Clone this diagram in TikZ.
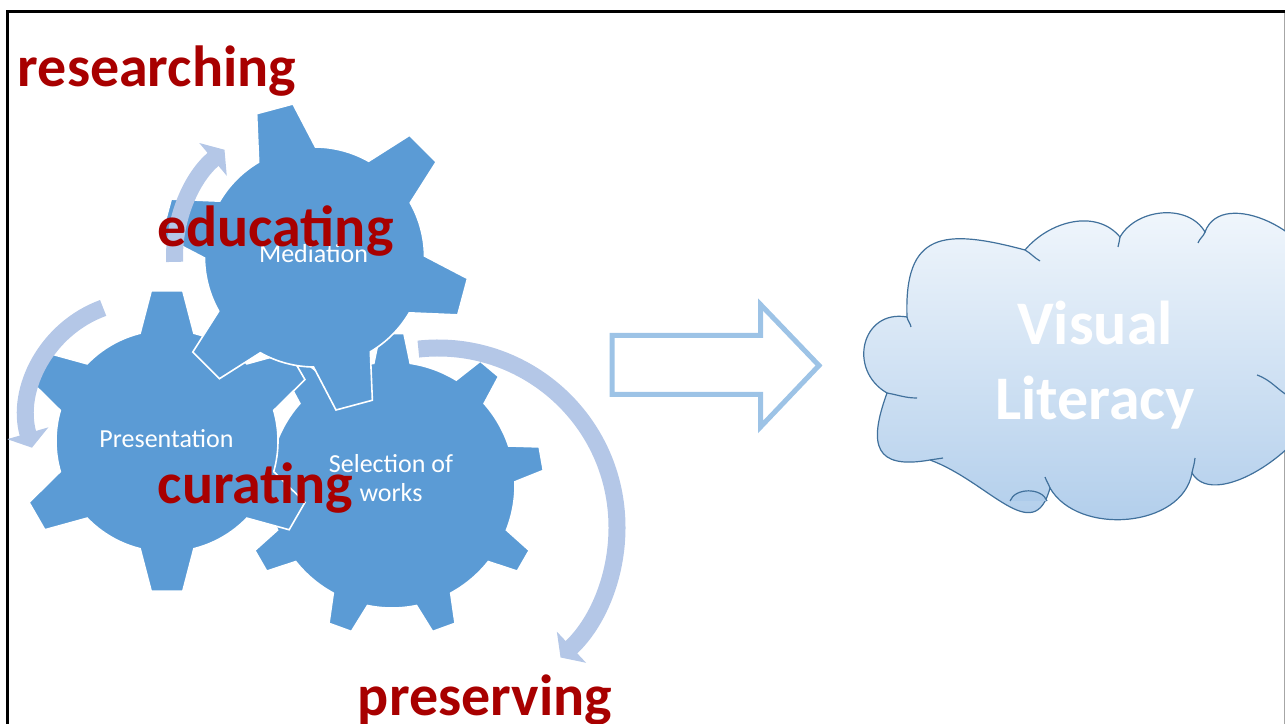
\documentclass[tikz,border=0pt]{standalone}
\usepackage{fontspec}
\setmainfont{Carlito}
\usetikzlibrary{arrows.meta}
\definecolor{GearBlue}{HTML}{5B9BD5}
\definecolor{CycleBlue}{HTML}{B4C7E7}
\definecolor{ArrowBlue}{HTML}{9DC3E6}
\definecolor{CloudEdge}{HTML}{41719C}
\definecolor{CloudTop}{HTML}{F5F9FD}
\definecolor{CloudBottom}{HTML}{ADCBEA}
\definecolor{VerbRed}{HTML}{A80000}
\definecolor{FrameGray}{HTML}{A6A6A6}

% centre x, centre y, body radius, tip radius, teeth, first tooth angle, base half angle, tip half angle
\newcommand{\drawgear}[8]{%
  \path[gear,shift={(#1,#2)}] ({#6-#7}:#3)
    \foreach \k [evaluate=\k as \t using {#6+(\k-1)*360/#5}] in {1,...,#5}{
      -- ({\t-#8}:#4) -- ({\t+#8}:#4) -- ({\t+#7}:#3)
      arc[start angle={\t+#7},end angle={\t+360/#5-#7},radius=#3]
    } -- cycle;}

\begin{document}
\begin{tikzpicture}[x=0.5pt,y=0.5pt,
    gear/.style={fill=GearBlue,draw=white,line width=0.8pt,line join=miter},
    cyc/.style={draw=CycleBlue,line width=8.5pt,-{Triangle[length=7.5pt,width=21pt]}},
    verb/.style={text=VerbRed,font=\fontsize{29}{35}\selectfont\bfseries,anchor=base,inner sep=0pt},
    gearlabel/.style={text=white,font=\fontsize{13}{14.5}\selectfont,align=center,inner sep=0pt},
    blockarrow/.style={draw=ArrowBlue,line width=2.5pt,line join=miter},
    cloudshape/.style={draw=CloudEdge,line width=0.6pt,top color=CloudTop,bottom color=CloudBottom},
    curl/.style={draw=CloudEdge,line width=0.6pt},
    frameline/.style={draw=black,line width=1.5pt}
  ]
    \useasboundingbox (0,0) rectangle (1285,723);
    \draw[frameline] (1286,711.3) -- (7.5,711.3) -- (7.5,-2);
    \draw[FrameGray,line width=0.5pt] (1284.5,710) -- (1284.5,-2);

    \drawgear{392}{238}{123}{152}{9}{10}{8.5}{4.5}
    \drawgear{167}{282}{111}{151}{6}{90}{14}{6}
    \drawgear{314.5}{466}{110}{154.5}{6}{105}{15.5}{7}

    \coordinate (selc) at (438,196);
    \coordinate (prec) at (142.5,307);
    \coordinate (medc) at (314.5,466);
    \draw[cyc] ([shift={(96.3:179)}]selc) arc[start angle=96.3,end angle=-46.8,radius=179];
    \draw[cyc] ([shift={(110:115)}]prec) arc[start angle=110,end angle=196,radius=115];
    \draw[cyc] ([shift={(182:140)}]medc) arc[start angle=182,end angle=130,radius=140];

    \draw[blockarrow] (612,387.5) -- (760.5,387.5) -- (760.5,418.5) -- (819,357.5)
      -- (760.5,296) -- (760.5,328.5) -- (612,328.5) -- cycle;

    \path[cloudshape] (907,406)
      to[out=92,in=165,looseness=1.6] (1025,473)
      to[out=50,in=130] (1120,486)
      to[out=60,in=120] (1205,491)
      to[out=70,in=90] (1320,440)
      to[out=0,in=0] (1320,330)
      to[out=-90,in=-60,looseness=0.8] (1192,250)
      to[out=-100,in=-60] (1050,235)
      to[out=-105,in=-20,looseness=1.3] (930,263)
      to[out=190,in=-110,looseness=1.8] (887,330)
      to[out=150,in=170,looseness=1.5] (907,406) -- cycle;
    \draw[curl] (907,406) to[out=-80,in=100] (911,396);
    \draw[curl] (1025,473) to[out=-30,in=150] (1040,462);
    \draw[curl] (1120,486) to[out=-80,in=95] (1118,476);
    \draw[curl] (1205,491) to[out=-110,in=70] (1198,480);
    \draw[curl] (1257,348) to[out=-20,in=150] (1290,326);
    \draw[curl] (1192,250) to[out=80,in=-95] (1195,265);
    \draw[curl] (1050,235) to[out=110,in=-70] (1045,246);
    \draw[curl] (930,263) to[out=10,in=190] (943,265);
    \draw[curl] (887,330) to[out=-10,in=180] (917,325);
    \path[fill=CloudBottom] (1010,222) to[out=70,in=110] (1047,222) -- cycle;
    \draw[curl] (1010,222) to[out=70,in=110] (1047,222);

    \node[gearlabel,anchor=base] (mediation) at (313.5,460) {Mediation};
    \node[gearlabel,anchor=base] (presentation) at (166.5,275) {Presentation};
    \node[gearlabel] (selection) at (391,244.5) {Selection of\\works};
    \node[text=white,font=\fontsize{31}{37.5}\selectfont\bfseries,align=center] (literacy) at (1095,358) {Visual\\Literacy};

    \node[verb] (research) at (157,636) {researching};
    \node[verb] (educate) at (275.5,476) {educating};
    \node[verb] (curate) at (255.5,219) {curating};
    \node[verb] (preserve) at (485,8) {preserving};
\end{tikzpicture}
\end{document}
